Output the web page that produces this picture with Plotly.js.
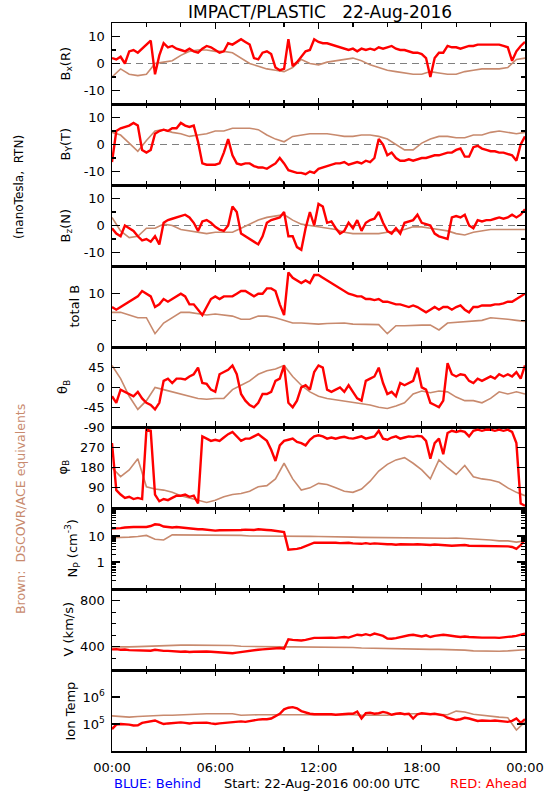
<!DOCTYPE html>
<html><head><meta charset="utf-8">
<script src="https://cdn.plot.ly/plotly-3.0.1.min.js"></script>
<style>html,body{margin:0;padding:0;background:#fff;}#chart{width:550px;height:800px;}</style>
</head><body><div id="chart"></div>
<script>
// ---- time grids (hours from 22-Aug-2016 00:00 UTC) ----
const hoursAhead = Array.from({length: 97}, (_, i) => i / 4);   // 15-min samples
const hoursBrown = Array.from({length: 49}, (_, i) => i / 2);   // 30-min samples
const xTickVals = [0, 6, 12, 18, 24];
const xTickText = ['00:00', '06:00', '12:00', '18:00', '00:00'];

// ---- Bx (R) ----
const bxAhead = [2,1.5,2.5,0, 4.5,5,4,5.5, 7,8.5,-4,3, 7.5,6,6.5,5.5, 5,4.5,5.5,4.5, 4,5.5,6.5,6,
  5,4,4.5,7.5, 7,8,9,8, 7,2,1.5,4, 4.5,3.5,-1.5,-2.5, -2,9,-1,0.5, 2.5,4.5,5,9,
  8,7.5,7.5,7, 6.5,6,5.5,5, 5.5,4.5,5.5,5, 5.5,5,6,5.5, 6,6.5,5.5,5, 5,4.5,4,4,
  3.5,2,-5,2, 4,4,6.5,6, 6,5.5,6,6.5, 6.5,7,7,7, 7,7,7,6.5, 6,1,4.5,6.5, 8];
const bxBrown = [-5,-2,-4,-4.5,-4,0,0.5,1,3,4.5,5,5,4.5,4.5,4,2,0,-1,-2,-2.5,-3,-1.5,1.5,0,-0.5,
  0.5,1,1.5,2,1,-0.5,-1.5,-2.5,-3,-3.5,-4,-4,-3,-3.5,-4,-4,-3,-2.5,-2,-2,-2,-1.5,1.5,2];

// ---- By (T) ----
const byAhead = [-6.5,5,6,6.5, 7,8,7,-2, -3,-2,4,5, 5.5,5,6,6, 8,7,6.5,7, 1,-7,-7.5,-7.5,
  -7.5,-7,-3,2, -4,-7,-7.5,-7, -7,-8,-8.5,-8.5, -9,-8,-7,-5, -7,-9.5,-10,-10.5, -10.5,-11,-10,-10.5,
  -9,-8.5,-8,-7.5, -7,-7,-6.5,-7.5, -7,-6.5,-7,-6, -6.5,-5,2,0, -4,-3,-5,-6, -6,-5.5,-6,-5.5,
  -5,-5,-4.5,-4, -4,-3.5,-3,-3, -2,-1.5,-4.5,-4.5, -1,-0.5,-1.5,-2, -2.5,-2.5,-3,-3, -3.5,-4,-6,0, 3];
const byBrown = [4.5,3.5,0.5,-2.5,1.5,5,5.5,4.5,4,3,3.5,4,5,5,6,6,6,5.5,3.5,2,1,3,3.5,4,4,
  4,3.5,3,3,3.5,3.5,3,2,0,-2,-2,0.5,2,3,3,2.5,2.5,3.5,3.5,4.5,5,4.5,4,4.5];

// ---- Bz (N) ----
const bzAhead = [-1,-3,-4,0, -1,-2,-4,-5.5, -5,-6,-4,-7, 1,2,2.5,3, 3.5,4,3,1, -2,1.5,2,1,
  -0.5,-1.5,-2,0, 7,5,-3,-4, -5,-6,-7,-4, 1,2,2.5,3, 5,-4,-4,-8, -9,-1,5,0,
  8,7,1,1.5, -1,-3,-2,1, -1,2,-2,1, 2,2.5,5,1, -2,-3,-1,-3, 1,1.5,2,4,
  1,0.5,0,-3, -4,-4.5,-5,3, 3.5,3,4,0, -1,2,1.5,2, 2,2.5,3,2.5, 3,4,3,4, 6];
const bzBrown = [3,-2,-4.5,-4,-1,-1,0.5,0,-1.5,-2,-2.5,-3,-2.5,-2.5,-2.5,-1,0.5,2,3,3.5,4,2,0.5,0,-0.5,
  -1,-1.5,-2.5,-3,-3,-3,-3,-2.5,-2,-1.5,-0.5,-0.5,-1,-1.5,-2,-3,-3.5,-2.5,-2,-1.5,-1.5,-1.5,-1.5,-1.5];

// ---- total B ----
const btAhead = [7.5,7,7.5,8, 8.5,9,9.5,10.5, 10,9.5,7.5,8, 9,8.5,9,9.5, 10,9.5,8,8, 7,6,7.5,9,
  9.5,9,9.5,9.5, 9.5,10,10.5,10.5, 10,9.5,10,10, 11,11,10.5,8, 6,14,13,12.5, 12,12.5,12,13.5,
  13.5,13,12.5,12, 11.5,11,10.5,10, 9.8,9.5,9.5,9, 9,8.8,9,8.5, 8.5,8.3,8,8, 7.8,7.5,7.8,7.5,
  7,6.5,7,7.5, 7,7.5,7.5,7, 7.5,7.8,7,6.5, 7.5,7.5,7.8,7.8, 7.8,8,8,8.2, 8.5,8.5,9,9.5, 10];
const btBrown = [6.5,6.5,6,5.5,5.5,2.5,4.5,5.5,6.5,6.5,6.3,6,6.2,6,5.8,5.2,5.2,5.8,5.8,5.5,5,4.5,4.5,4.4,4.3,
  4.4,4.4,4.5,4.3,4.3,4.2,4.2,2.5,4,4,4.1,4.1,4.1,3.2,4.5,4.6,4.8,4.8,5,5.5,5.4,5.2,5,4.8];

// ---- theta B (deg) ----
const thAhead = [-20,-35,-5,-10, -15,-20,-10,-25, -35,-40,-50,-35, 15,20,10,20, 20,18,25,30, 45,10,8,-5,
  -10,30,35,40, 50,30,-15,-30, -40,-45,-35,-15, -15,-10,15,20, 50,-35,-45,-30, 0,5,-5,35,
  50,45,-5,-10, -5,0,-10,5, -10,-25,-30,15, 20,25,45,10, -15,-10,-20,10, 5,10,15,45,
  0,-5,-35,-40, -45,-30,55,30, 25,30,28,15, 10,20,15,20, 25,20,30,25, 30,25,35,20, 50];
const thBrown = [50,20,-20,-50,-30,0,-5,-10,-15,-20,-25,-27,-25,-25,-5,5,15,30,38,42,50,25,5,-10,-20,
  -25,-28,-30,-33,-37,-40,-45,-48,-42,-35,-15,-8,-12,-8,-10,-22,-30,-30,-35,-25,-10,-15,-10,-15];

// ---- phi B (deg) ----
const phAhead = [290,80,60,45, 50,40,45,40, 350,345,60,30, 40,35,45,55, 55,60,50,55, 20,320,310,300,
  305,300,315,330, 340,320,300,310, 310,320,330,315, 300,260,210,280, 300,305,310,295, 290,280,305,320,
  325,320,310,315, 310,315,318,312, 310,315,320,310, 315,320,345,310, 305,315,320,310, 315,320,318,322,
  320,300,220,290, 310,240,335,345, 340,345,340,320, 345,350,345,350, 350,345,350,345, 350,340,290,20, 10];
const phBrown = [180,140,170,220,95,85,80,70,55,45,35,25,35,50,60,65,75,95,100,130,200,130,80,90,110,
  105,90,75,70,85,120,165,195,215,225,200,170,130,215,180,150,190,140,130,125,115,90,70,55];

// ---- proton density Np (cm^-3) ----
const npAhead = [19,19,20,21, 22,22,22,22, 22,24,28,27, 23,22,21,22, 21,21,20,19, 18,18,17,16.5,
  16,16.5,16.5,16, 16.5,17,17,17.5, 17,17,18,17, 17,16.5,15.5,15, 14,3,3,3.2, 3.5,4,4.5,5.5,
  5.5,5.5,5.7,5.5, 5.5,5.3,5.5,5.5, 5.2,5,5,5.3, 5,5.2,5,5, 4.8,4.8,4.6,4.8, 4.7,4.5,4.7,4.8,
  4.7,4.5,4.5,4.7, 4.5,4.3,4.2,4.2, 4.3,4.4,4.5,4.2, 4.2,4.2,4.1,4.2, 4.2,4.1,4,4.2, 4,3.8,3.2,4.5, 7];
const npBrown = [8.5,8.5,9,9.5,10.5,7.5,7,11,11,11,11,11,11,11,10.5,10.5,10,10,10,10,10.2,10,9.8,9.6,9.5,
  9.5,9.3,9.2,9,8.8,8.7,8.7,8.6,8.5,8.3,8.3,8.3,8.3,8.2,8.2,8.3,8,7.7,7.5,7,6.5,6.5,5.8,6.5];

// ---- bulk speed V (km/s) ----
const vAhead = [378,380,375,377, 372,370,368,372, 370,366,375,368, 365,365,362,360, 358,360,355,358, 360,362,360,358,
  355,352,348,350, 345,350,355,365, 370,372,375,378, 380,385,388,390, 385,465,460,458, 455,460,470,478,
  478,480,476,480, 478,482,485,480, 490,505,500,510, 500,515,505,495, 472,470,475,485, 490,500,505,495,
  490,500,485,495, 500,505,500,498, 490,485,490,485, 482,480,480,480, 482,480,478,480, 485,490,495,505, 515];
const vBrown = [400,398,400,402,405,410,415,412,415,415,415,415,415,415,412,405,403,403,402,402,400,400,400,398,398,
  400,400,398,395,390,388,387,385,385,382,380,380,378,378,378,376,372,365,363,362,362,365,372,375];

// ---- ion temperature (K) ----
const tempAhead = [6.5e4,9.5e4,1.0e5,9.8e4, 9.5e4,8.8e4,9.0e4,1.1e5, 1.2e5,1.3e5,1.35e5,1.15e5, 1.0e5,1.05e5,1.1e5,1.15e5,
  1.15e5,1.1e5,1.05e5,1.1e5, 1.1e5,1.08e5,1.12e5,1.05e5, 1.0e5,1.05e5,1.1e5,1.15e5, 1.15e5,1.2e5,1.25e5,1.2e5,
  1.3e5,1.4e5,1.45e5,1.5e5, 1.5e5,1.6e5,2.0e5,2.4e5, 3.5e5,4.0e5,4.2e5,3.8e5, 3.0e5,2.6e5,2.4e5,2.3e5,
  2.3e5,2.4e5,2.3e5,2.3e5, 2.2e5,2.3e5,2.3e5,2.4e5, 2.4e5,2.9e5,1.6e5,2.5e5, 2.6e5,2.4e5,2.5e5,2.8e5,
  2.6e5,2.2e5,2.4e5,2.5e5, 2.3e5,2.4e5,1.6e5,2.3e5, 2.5e5,2.4e5,2.3e5,2.4e5, 2.2e5,2.1e5,1.7e5,1.5e5,
  1.4e5,1.5e5,1.7e5,1.6e5, 1.4e5,1.3e5,1.35e5,1.3e5, 1.3e5,1.35e5,1.3e5,1.25e5, 1.2e5,1.3e5,1.6e5,1.1e5, 1.5e5];
const tempBrown = [2.0e5,1.9e5,1.8e5,1.9e5,2.0e5,2.0e5,2.1e5,2.1e5,2.2e5,2.3e5,2.3e5,2.4e5,2.4e5,2.4e5,2.4e5,2.1e5,
  2.2e5,2.2e5,2.2e5,2.2e5,2.2e5,2.3e5,2.3e5,2.3e5,2.2e5,2.2e5,2.2e5,2.2e5,2.2e5,2.1e5,2.1e5,2.1e5,2.1e5,2.3e5,
  2.4e5,2.4e5,2.4e5,2.3e5,2.2e5,2.2e5,3.0e5,2.8e5,2.3e5,2.1e5,1.9e5,1.8e5,1.7e5,6.0e4,1.2e5];

// ---- presentation ----
const W = 550, H = 800;
const RED = '#ff0000', BROWN = '#c88a6e';
const FONT = 'DejaVu Sans, sans-serif';
const edges = [23, 104, 185, 266, 347, 427, 508, 589, 670, 751];
const xDom = [112 / W, 525 / W];

const panels = [
  {a: bxAhead, b: bxBrown, range: [-15, 15], tv: [-10, 0, 10], tt: ['-10', '0', '10'], mv: [-5, 5], title: 'B<sub>x</sub>(R)', tx: 66, zero: true},
  {a: byAhead, b: byBrown, range: [-15, 15], tv: [-10, 0, 10], tt: ['-10', '0', '10'], mv: [-5, 5], title: 'B<sub>Y</sub>(T)', tx: 66, zero: true},
  {a: bzAhead, b: bzBrown, range: [-15, 15], tv: [-10, 0, 10], tt: ['-10', '0', '10'], mv: [-5, 5], title: 'B<sub>z</sub>(N)', tx: 66, zero: true},
  {a: btAhead, b: btBrown, range: [0, 15.2], tv: [0, 10], tt: ['0', '10'], mv: [5], title: 'total B', tx: 74},
  {a: thAhead, b: thBrown, range: [-90, 92], tv: [-90, -45, 0, 45], tt: ['-90', '-45', '0', '45'], mv: [], title: 'θ<sub>B</sub>', tx: 63},
  {a: phAhead, b: phBrown, range: [0, 362], tv: [0, 90, 180, 270], tt: ['0', '90', '180', '270'], mv: [], title: 'φ<sub>B</sub>', tx: 63},
  {a: npAhead, b: npBrown, log: true, range: [-1.03, 2.07], tv: [1, 10], tt: ['1', '10'],
   mv: [0.2,0.3,0.4,0.5,0.6,0.7,0.8,0.9,2,3,4,5,6,7,8,9,20,30,40,50,60,70,80,90], title: 'N<sub>P</sub> (cm<sup>-3</sup>)', tx: 72},
  {a: vAhead, b: vBrown, range: [200, 900], tv: [400, 800], tt: ['400', '800'], mv: [300, 500, 600, 700], title: 'V (km/s)', tx: 68},
  {a: tempAhead, b: tempBrown, log: true, range: [4, 7], tv: [1e5, 1e6], tt: ['10<sup>5</sup>', '10<sup>6</sup>'], mv: [], title: 'Ion Temp', tx: 70}
];

const traces = [];
const layout = {
  width: W, height: H, margin: {l: 0, r: 0, t: 0, b: 0},
  paper_bgcolor: '#fff', plot_bgcolor: '#fff', showlegend: false,
  font: {family: FONT, size: 13, color: '#000'},
  annotations: [], shapes: []
};

panels.forEach((p, i) => {
  const n = i === 0 ? '' : String(i + 1);
  const xa = 'x' + n, ya = 'y' + n;
  traces.push({type: 'scatter', mode: 'lines', x: hoursBrown, y: p.b, xaxis: xa, yaxis: ya,
    line: {color: BROWN, width: 1.6}, hoverinfo: 'skip'});
  traces.push({type: 'scatter', mode: 'lines', x: hoursAhead, y: p.a, xaxis: xa, yaxis: ya,
    line: {color: RED, width: 2.4}, hoverinfo: 'skip'});

  const xaxis = {
    domain: xDom, anchor: ya, range: [0, 24],
    tickmode: 'array', tickvals: xTickVals, ticktext: xTickText,
    showticklabels: i === panels.length - 1,
    ticks: 'inside', ticklen: 6, tickwidth: 1.2, tickcolor: '#000',
    minor: {tickvals: [2, 4, 8, 10, 14, 16, 20, 22], ticks: 'inside', ticklen: 4, tickwidth: 1.2, tickcolor: '#000'},
    showline: true, linecolor: '#000', linewidth: 1.5, mirror: 'ticks',
    showgrid: false, zeroline: false, fixedrange: true,
    tickfont: {family: FONT, size: 13, color: '#000'}, ticklabelstandoff: 4
  };
  if (i > 0) xaxis.matches = 'x';
  layout['xaxis' + n] = xaxis;
  layout['yaxis' + n] = {
    domain: [1 - edges[i + 1] / H, 1 - edges[i] / H], anchor: xa,
    type: p.log ? 'log' : 'linear', range: p.range,
    tickmode: 'array', tickvals: p.tv, ticktext: p.tt,
    ticks: 'inside', ticklen: 8, tickwidth: 1.2, tickcolor: '#000',
    minor: {tickvals: p.mv, ticks: 'inside', ticklen: 4, tickwidth: 1.2, tickcolor: '#000'},
    showline: true, linecolor: '#000', linewidth: 1.5, mirror: 'ticks',
    showgrid: false, zeroline: false, fixedrange: true,
    tickfont: {family: FONT, size: 13, color: '#000'}, ticklabelstandoff: 3
  };
  layout.annotations.push({
    text: p.title, xref: 'paper', yref: 'paper', x: p.tx / W,
    y: 1 - (edges[i] + edges[i + 1]) / 2 / H, textangle: -90, showarrow: false,
    xanchor: 'center', yanchor: 'middle', font: {family: FONT, size: 13, color: '#000'}
  });
  if (p.zero) {
    layout.shapes.push({type: 'line', xref: xa, yref: ya, x0: 0, x1: 24, y0: 0, y1: 0,
      line: {color: '#808080', width: 1.2, dash: '7px,5px'}, layer: 'below'});
  }
});

layout.annotations.push(
  {text: 'IMPACT/PLASTIC\u00a0\u00a0\u00a022-Aug-2016', xref: 'paper', yref: 'paper', x: 320 / W, y: 1 - 12 / H,
   showarrow: false, xanchor: 'center', yanchor: 'middle', font: {family: FONT, size: 17, color: '#000'}},
  {text: '(nanoTesla,\u00a0\u00a0RTN)', xref: 'paper', yref: 'paper', x: 19 / W, y: 1 - 187 / H, textangle: -90,
   showarrow: false, xanchor: 'center', yanchor: 'middle', font: {family: FONT, size: 12, color: '#000'}},
  {text: 'Brown:\u00a0\u00a0DSCOVR/ACE\u00a0equivalents', xref: 'paper', yref: 'paper', x: 20 / W, y: 1 - 509 / H, textangle: -90,
   showarrow: false, xanchor: 'center', yanchor: 'middle', font: {family: FONT, size: 12.5, color: BROWN}},
  {text: 'BLUE:\u00a0Behind', xref: 'paper', yref: 'paper', x: 112 / W, y: 1 - 783 / H,
   showarrow: false, xanchor: 'left', yanchor: 'middle', font: {family: FONT, size: 13, color: '#0000ff'}},
  {text: 'Start:\u00a022-Aug-2016\u00a000:00\u00a0UTC', xref: 'paper', yref: 'paper', x: 322 / W, y: 1 - 783 / H,
   showarrow: false, xanchor: 'center', yanchor: 'middle', font: {family: FONT, size: 13, color: '#000'}},
  {text: 'RED:\u00a0Ahead', xref: 'paper', yref: 'paper', x: 529 / W, y: 1 - 783 / H,
   showarrow: false, xanchor: 'right', yanchor: 'middle', font: {family: FONT, size: 13, color: RED}}
);

Plotly.newPlot('chart', traces, layout, {displayModeBar: false, staticPlot: true});
</script>
</body></html>
